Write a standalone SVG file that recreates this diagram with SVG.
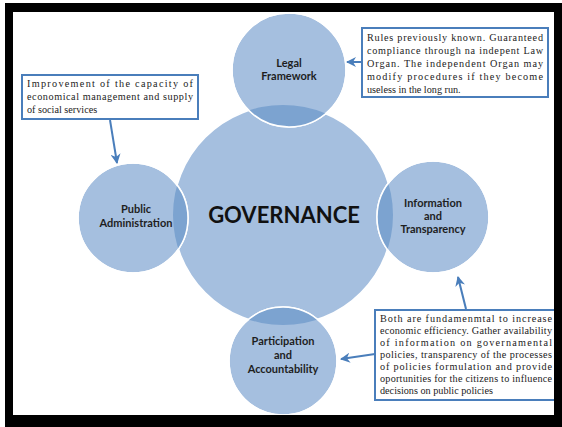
<svg xmlns="http://www.w3.org/2000/svg" width="562" height="427" viewBox="0 0 562 427">
<style>
.c{fill:#a5bfdf;stroke:#ffffff;stroke-width:1.5}
.lens{fill:#7ca3d0}
.lbl{font-family:Lato,"Liberation Sans",sans-serif;font-weight:bold;font-size:11px;fill:#1e1e1e;text-anchor:middle}
.gov{font-family:Lato,"Liberation Sans",sans-serif;font-weight:bold;font-size:22px;fill:#111111;text-anchor:middle}
.box{fill:#ffffff;stroke:#4a7ebb;stroke-width:2}
.t{font-family:"Liberation Serif",serif;font-size:10.2px;fill:#222222}
.arr{fill:none;stroke:#4a7ebb;stroke-width:2;marker-end:url(#ah)}
</style>
<defs>
<marker id="ah" viewBox="0 0 10 10" refX="9" refY="5" markerWidth="5" markerHeight="5" orient="auto" markerUnits="strokeWidth">
<path d="M0,0 L10,5 L0,10 L3,5 Z" fill="#4a7ebb"/>
</marker>
<clipPath id="bigclip"><circle cx="283" cy="215" r="110"/></clipPath>
</defs>
<rect x="0" y="0" width="562" height="427" fill="#ffffff"/>
<rect x="5" y="3" width="557" height="424" fill="#000000"/>
<rect x="13" y="12" width="541" height="403" fill="#ffffff"/>

<g id="governance">
<circle class="c" cx="283" cy="215" r="110"/>
</g>
<g id="legal-framework">
<circle class="c" cx="289" cy="70" r="57"/>
<circle class="lens" cx="289" cy="70" r="57" clip-path="url(#bigclip)"/>
<circle cx="289" cy="70" r="57" fill="none" stroke="#ffffff" stroke-width="1.5"/>
<text class="lbl" x="289" y="67">Legal</text>
<text class="lbl" x="289" y="80">Framework</text>
</g>
<g id="public-administration">
<circle class="c" cx="133" cy="218" r="55"/>
<circle class="lens" cx="133" cy="218" r="55" clip-path="url(#bigclip)"/>
<circle cx="133" cy="218" r="55" fill="none" stroke="#ffffff" stroke-width="1.5"/>
<text class="lbl" x="136" y="213">Public</text>
<text class="lbl" x="136" y="227">Administration</text>
</g>
<g id="information-transparency">
<circle class="c" cx="433" cy="217" r="56"/>
<circle class="lens" cx="433" cy="217" r="56" clip-path="url(#bigclip)"/>
<circle cx="433" cy="217" r="56" fill="none" stroke="#ffffff" stroke-width="1.5"/>
<text class="lbl" x="433" y="207">Information</text>
<text class="lbl" x="433" y="220">and</text>
<text class="lbl" x="433" y="233">Transparency</text>
</g>
<g id="participation-accountability">
<circle class="c" cx="283" cy="361" r="54"/>
<circle class="lens" cx="283" cy="361" r="54" clip-path="url(#bigclip)"/>
<circle cx="283" cy="361" r="54" fill="none" stroke="#ffffff" stroke-width="1.5"/>
<text class="lbl" x="283" y="345">Participation</text>
<text class="lbl" x="283" y="359">and</text>
<text class="lbl" x="283" y="373">Accountability</text>
</g>
<g id="governance-label">
<text class="gov" x="284" y="223">GOVERNANCE</text>
</g>

<g id="note-public">
<rect class="box" x="22" y="75" width="176" height="44"/>
<text class="t" x="27" y="87" textLength="166" lengthAdjust="spacing">Improvement of the capacity of</text>
<text class="t" x="27" y="100" textLength="166" lengthAdjust="spacing">economical management and supply</text>
<text class="t" x="27" y="113">of social services</text>
</g>
<g id="note-legal">
<rect class="box" x="362" y="28" width="186" height="69"/>
<text class="t" x="367" y="41" textLength="176" lengthAdjust="spacing">Rules previously known. Guaranteed</text>
<text class="t" x="367" y="54" textLength="176" lengthAdjust="spacing">compliance through na indepent Law</text>
<text class="t" x="367" y="67" textLength="176" lengthAdjust="spacing">Organ. The independent Organ may</text>
<text class="t" x="367" y="80" textLength="176" lengthAdjust="spacing">modify procedures if they become</text>
<text class="t" x="367" y="93">useless in the long run.</text>
</g>
<g id="note-info">
<rect class="box" x="375" y="310" width="182" height="90"/>
<text class="t" x="380" y="322" textLength="172" lengthAdjust="spacing">Both are fundamenmtal to increase</text>
<text class="t" x="380" y="334" textLength="172" lengthAdjust="spacing">economic efficiency. Gather availability</text>
<text class="t" x="380" y="346" textLength="172" lengthAdjust="spacing">of information on governamental</text>
<text class="t" x="380" y="358" textLength="172" lengthAdjust="spacing">policies, transparency of the processes</text>
<text class="t" x="380" y="370" textLength="172" lengthAdjust="spacing">of policies formulation and provide</text>
<text class="t" x="380" y="382" textLength="172" lengthAdjust="spacing">oportunities for the citizens to influence</text>
<text class="t" x="380" y="394">decisions on public policies</text>
</g>

<g id="connectors">
<path class="arr" d="M110,120 L117,163"/>
<path class="arr" d="M362,62 L347,62"/>
<path class="arr" d="M466,309 L458,277"/>
<path class="arr" d="M375,354 L341,359"/>
</g>
<rect x="554" y="3" width="8" height="424" fill="#000000"/>
<rect x="5" y="415" width="557" height="12" fill="#000000"/>
</svg>
